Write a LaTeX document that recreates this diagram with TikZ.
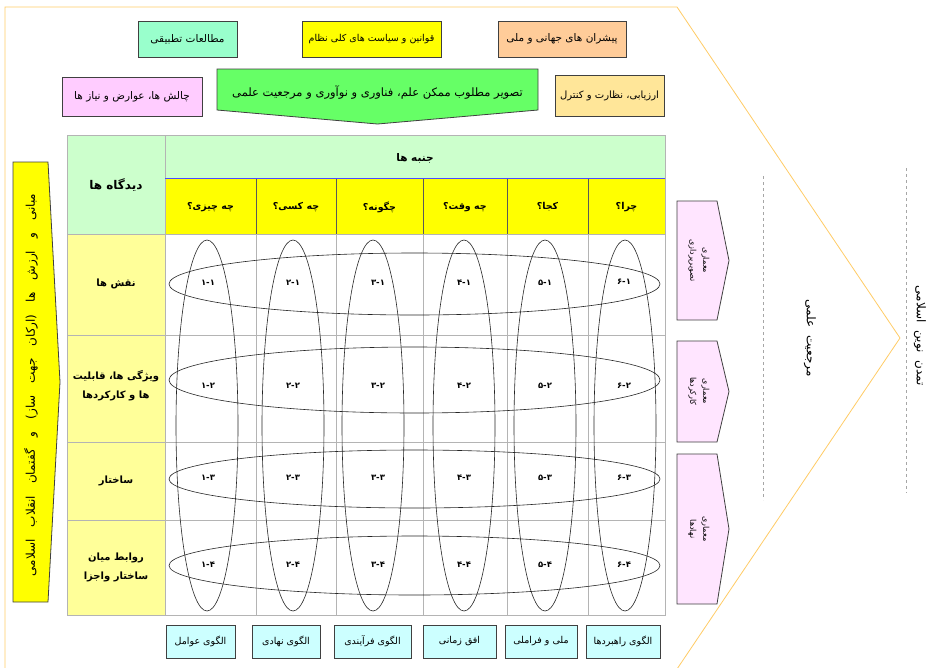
\documentclass[tikz,border=0pt]{standalone}
\usepackage{fontspec}
\newfontfamily\fa[Script=Arabic]{DejaVu Sans}
\TeXXeTstate=1
\newcommand{\rl}[1]{\beginR #1\endR}
\definecolor{brd}{HTML}{404040}
\definecolor{aqua}{HTML}{99FFCC}
\definecolor{yel}{HTML}{FFFF00}
\definecolor{peach}{HTML}{FFCC99}
\definecolor{pinkc}{HTML}{FFCCFF}
\definecolor{grn}{HTML}{66FF66}
\definecolor{lorange}{HTML}{FFE699}
\definecolor{hgreen}{HTML}{CCFFCC}
\definecolor{lyel}{HTML}{FFFF99}
\definecolor{lcyan}{HTML}{CCFFFF}
\definecolor{lpink}{HTML}{FFE5FF}
\definecolor{orline}{HTML}{FFCC66}
\definecolor{gridc}{HTML}{B4B4B4}
\tikzset{
  topbox/.style={draw=brd, line width=0.8pt, inner sep=0pt, font=\fa\fontsize{10.5}{12}\selectfont},
  botbox/.style={draw=brd, line width=0.8pt, fill=lcyan, inner sep=0pt, minimum height=33pt, font=\fa\fontsize{9.5}{11}\selectfont},
  hdr/.style={font=\fa\bfseries\fontsize{9.5}{11}\selectfont, inner sep=0pt},
  rowlab/.style={font=\fa\bfseries\fontsize{10}{19}\selectfont, align=center, inner sep=0pt},
  cell/.style={font=\fa\bfseries\fontsize{8.5}{10}\selectfont, inner sep=0pt},
  ell/.style={draw=black!85, line width=0.6pt},
  gridline/.style={draw=gridc, line width=0.8pt},
  shapeline/.style={draw=brd, line width=0.8pt},
  sidetext/.style={font=\fa\fontsize{8}{13}\selectfont, align=center, inner sep=0pt, rotate=-90},
  bigtext/.style={font=\fa\fontsize{12}{14}\selectfont, inner sep=0pt, rotate=-90},
}
\begin{document}
\begin{tikzpicture}[x=1pt,y=-1pt]
\useasboundingbox (0,0) rectangle (928,667);
\fill[white] (0,0) rectangle (928,667);
% outer orange chevron
\draw[orline, line width=0.8pt] (5,680) -- (5,7) -- (677,7) -- (900,338) -- (677,669);
\draw[gray!70, dashed, line width=0.8pt] (763,176) -- (763,500);
\draw[gray!70, dashed, line width=0.8pt] (906,168) -- (906,493);
% top boxes
\node[topbox, fill=aqua, minimum width=99pt, minimum height=36pt] (t1) at (187.5,39) {\rl{مطالعات تطبیقی}};
\node[topbox, fill=yel, minimum width=139pt, minimum height=36pt, font=\fa\fontsize{9.5}{11}\selectfont] (t2) at (371.5,39) {\rl{قوانین و سیاست های کلی نظام}};
\node[topbox, fill=peach, minimum width=128pt, minimum height=36pt] (t3) at (562,39) {\rl{پیشران های جهانی و ملی}};
\node[topbox, fill=pinkc, minimum width=140pt, minimum height=39pt] (t4) at (132,96.5) {\rl{چالش ها، عوارض و نیاز ها}};
\node[topbox, fill=lorange, minimum width=109pt, minimum height=41pt, font=\fa\fontsize{10}{12}\selectfont] (t5) at (609.5,95.5) {\rl{ارزیابی، نظارت و کنترل}};
\draw[shapeline, fill=grn] (217,69) -- (538,69) -- (538,110) -- (377.5,124) -- (217,110) -- cycle;
\node[topbox, draw=none, font=\fa\fontsize{11.5}{13}\selectfont] (ga) at (377.5,93) {\rl{تصویر مطلوب ممکن علم، فناوری و نوآوری و مرجعیت علمی}};
% left yellow arrow
\draw[shapeline, fill=yel] (13,162) -- (48,162) -- (60,382) -- (48,602) -- (13,602) -- cycle;
\node[font=\fa\fontsize{12}{14}\selectfont, rotate=90, inner sep=0pt] (lt) at (31,385) {\spaceskip=12pt plus 2pt\rl{مبانی و ارزش ها (ارکان جهت ساز) و گفتمان انقلاب اسلامی}};
% table fills
\fill[hgreen] (67,135) rectangle (665,178);
\fill[hgreen] (67,178) rectangle (165,234);
\fill[yel] (165,178) rectangle (665,234);
\fill[lyel] (67,234) rectangle (165,615);
\fill[white] (165,234) rectangle (665,615);
% grid
\foreach \x in {256,336,423,507,588} {\draw[gridline] (\x,234) -- (\x,615);}
\foreach \y in {335,442,520} {\draw[gridline] (67,\y) -- (665,\y);}
\foreach \x in {256,336,423,507,588} {\draw[draw=gray!70!black, line width=0.8pt] (\x,178) -- (\x,234);}
\draw[gridline] (165,135) -- (165,615);
\draw[gridline] (67,234) -- (665,234);
\draw[draw=blue!70, line width=0.6pt] (165,178) -- (665,178);
\draw[gridline] (67,135) rectangle (665,615);
% header texts
\node[hdr, font=\fa\bfseries\fontsize{12}{14}\selectfont] (dg) at (116,185) {\rl{دیدگاه ها}};
\node[hdr, font=\fa\bfseries\fontsize{10.5}{12}\selectfont] (jb) at (415,158) {\rl{جنبه ها}};
\node[hdr] (c1) at (210.5,207) {\rl{چه چیزی؟}};
\node[hdr] (c2) at (296,207) {\rl{چه کسی؟}};
\node[hdr] (c3) at (379.5,207) {\rl{چگونه؟}};
\node[hdr] (c4) at (465,207) {\rl{چه وقت؟}};
\node[hdr] (c5) at (547.5,207) {\rl{کجا؟}};
\node[hdr] (c6) at (626.5,207) {\rl{چرا؟}};
% row labels
\node[rowlab] (r1) at (116,284) {\rl{نقش ها}};
\node[rowlab] (r2) at (116,386) {\rl{ویژگی ها، قابلیت}\\\rl{ها و کارکردها}};
\node[rowlab] (r3) at (116,481) {\rl{ساختار}};
\node[rowlab] (r4) at (116,567) {\rl{روابط میان}\\\rl{ساختار واجزا}};
% ellipses
\foreach \x in {207,293,373,464,545,625} {\draw[ell] (\x,425.5) ellipse [x radius=31, y radius=185.5];}
\draw[ell] (414.5,284) ellipse [x radius=245.5, y radius=31];
\draw[ell] (414.5,380) ellipse [x radius=245.5, y radius=33];
\draw[ell] (414.5,479) ellipse [x radius=245.5, y radius=29];
\draw[ell] (414.5,565.5) ellipse [x radius=245.5, y radius=29.5];
% cell labels
\node[cell] (n11) at (208,283) {۱-۱};
\node[cell] (n21) at (293,283) {۲-۱};
\node[cell] (n31) at (378,283) {۳-۱};
\node[cell] (n41) at (464,283) {۴-۱};
\node[cell] (n51) at (545,283) {۵-۱};
\node[cell] (n61) at (624,282) {۶-۱};
\node[cell] (n12) at (208,386) {۱-۲};
\node[cell] (n22) at (293,386) {۲-۲};
\node[cell] (n32) at (378,386) {۳-۲};
\node[cell] (n42) at (464,386) {۴-۲};
\node[cell] (n52) at (545,386) {۵-۲};
\node[cell] (n62) at (624,386) {۶-۲};
\node[cell] (n13) at (208,478) {۱-۳};
\node[cell] (n23) at (293,478) {۲-۳};
\node[cell] (n33) at (378,478) {۳-۳};
\node[cell] (n43) at (464,478) {۴-۳};
\node[cell] (n53) at (545,478) {۵-۳};
\node[cell] (n63) at (624,478) {۶-۳};
\node[cell] (n14) at (208,565) {۱-۴};
\node[cell] (n24) at (293,565) {۲-۴};
\node[cell] (n34) at (378,565) {۳-۴};
\node[cell] (n44) at (464,565) {۴-۴};
\node[cell] (n54) at (545,565) {۵-۴};
\node[cell] (n64) at (624,565) {۶-۴};
% bottom boxes
\node[botbox, minimum width=69pt] (b1) at (200.5,641.5) {\rl{الگوی عوامل}};
\node[botbox, minimum width=68pt] (b2) at (286,641.5) {\rl{الگوی نهادی}};
\node[botbox, minimum width=77pt] (b3) at (372.5,641.5) {\rl{الگوی فرآیندی}};
\node[botbox, minimum width=73pt] (b4) at (459.5,641.5) {\rl{افق زمانی}};
\node[botbox, minimum width=72pt] (b5) at (541,641.5) {\rl{ملی و فراملی}};
\node[botbox, minimum width=74pt] (b6) at (623,641.5) {\rl{الگوی راهبردها}};
% right pink boxes
\draw[shapeline, fill=lpink] (677,201) -- (717,201) -- (729,260.5) -- (717,320) -- (677,320) -- cycle;
\draw[shapeline, fill=lpink] (677,341) -- (717,341) -- (729,391.5) -- (717,442) -- (677,442) -- cycle;
\draw[shapeline, fill=lpink] (677,454) -- (717,454) -- (729,529) -- (717,604) -- (677,604) -- cycle;
\node[sidetext] (p1) at (699,260.5) {\rl{معماری}\\\rl{تصویرپردازی}};
\node[sidetext] (p2) at (699,391.5) {\rl{معماری}\\\rl{کارکردها}};
\node[sidetext] (p3) at (699,529) {\rl{معماری}\\\rl{نهادها}};
% right texts
\node[bigtext] (mr) at (810,338) {\spaceskip=8pt\rl{مرجعیت علمی}};
\node[bigtext] (tm) at (920,336) {\spaceskip=8pt\rl{تمدن نوین اسلامی}};
\end{tikzpicture}
\end{document}
